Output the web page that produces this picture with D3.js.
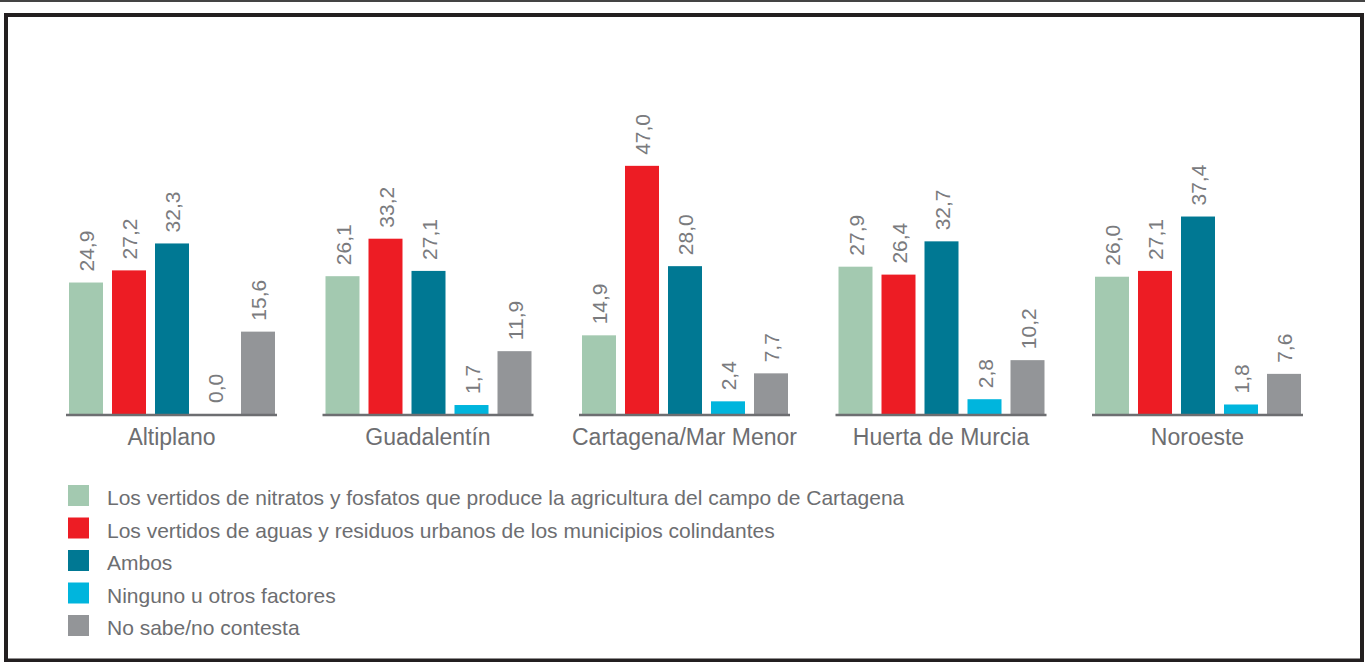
<!DOCTYPE html>
<html>
<head>
<meta charset="utf-8">
<script src="https://cdn.jsdelivr.net/npm/d3@7"></script>
<style>
  html, body { margin: 0; padding: 0; background: #fff; }
  svg text { font-family: "Liberation Sans", Arial, sans-serif; fill: #6d6e71; }
</style>
</head>
<body>
<div id="chart"></div>
<script>
// data
var zonas = ["Altiplano", "Guadalentín", "Cartagena/Mar Menor", "Huerta de Murcia", "Noroeste"];
var series = [
  "Los vertidos de nitratos y fosfatos que produce la agricultura del campo de Cartagena",
  "Los vertidos de aguas y residuos urbanos de los municipios colindantes",
  "Ambos",
  "Ninguno u otros factores",
  "No sabe/no contesta"
];
var nitratos = [24.9, 26.1, 14.9, 27.9, 26.0];
var urbanos  = [27.2, 33.2, 47.0, 26.4, 27.1];
var ambos    = [32.3, 27.1, 28.0, 32.7, 37.4];
var ninguno  = [0.0, 1.7, 2.4, 2.8, 1.8];
var nsnc     = [15.6, 11.9, 7.7, 10.2, 7.6];
var colores  = ["#a3c9b0", "#ed1c24", "#007893", "#00b5dd", "#939598"];

var valores = [nitratos, urbanos, ambos, ninguno, nsnc];

// set the dimensions
var width = 1365
var height = 662
var base = 414

var svg = d3.select("#chart")
  .append("svg")
    .attr("width", width)
    .attr("height", height);

// frame
svg.append("line")
  .attr("x1", 0).attr("x2", width)
  .attr("y1", 1).attr("y2", 1)
  .attr("stroke", "#444")
  .attr("stroke-width", 2);
svg.append("rect")
  .attr("x", 6).attr("y", 15)
  .attr("width", 1356).attr("height", 645.5)
  .attr("fill", "none")
  .attr("stroke", "#231f20")
  .attr("stroke-width", 4);

// scales
var x0 = d3.scaleBand()
  .domain(zonas)
  .range([66, 1303])
  .paddingInner(45.5 / 256.5)
  .paddingOuter(0);

var x1 = d3.scaleBand()
  .domain(d3.range(series.length))
  .range([3, 209])
  .paddingInner(9 / 43)
  .paddingOuter(0);

var y = d3.scaleLinear()
  .domain([0, 50])
  .range([base, base - 264]);

var grupo = svg.selectAll("g.grupo")
  .data(zonas)
  .enter()
  .append("g")
    .attr("class", "grupo")
    .attr("transform", function(d) { return "translate(" + x0(d) + ",0)"; });

// bars
grupo.each(function(z, zi) {
  var g = d3.select(this);
  var filas = valores.map(function(v, si) { return { s: si, v: v[zi] }; });

  g.selectAll("rect")
    .data(filas)
    .enter()
    .append("rect")
      .attr("x", function(d) { return x1(d.s); })
      .attr("y", function(d) { return y(d.v); })
      .attr("width", x1.bandwidth())
      .attr("height", function(d) { return base - y(d.v); })
      .attr("fill", function(d) { return colores[d.s]; });

  // value labels, rotated
  g.selectAll("text.valor")
    .data(filas)
    .enter()
    .append("text")
      .attr("class", "valor")
      .attr("transform", function(d) {
        return "translate(" + (x1(d.s) + x1.bandwidth() / 2 + 1) + "," + (y(d.v) - 11) + ") rotate(-90)";
      })
      .attr("dy", "0.35em")
      .attr("font-size", 21)
      .style("fill", "#7a7b7e")
      .text(function(d) { return d3.format(".1f")(d.v).replace(".", ","); });
});

// baseline under each group
grupo.append("line")
  .attr("x1", 0)
  .attr("x2", x0.bandwidth())
  .attr("y1", base + 1)
  .attr("y2", base + 1)
  .attr("stroke", "#6d6e71")
  .attr("stroke-width", 2.5);

// category labels
grupo.append("text")
  .attr("x", x0.bandwidth() / 2)
  .attr("y", 445)
  .attr("text-anchor", "middle")
  .attr("font-size", 23)
  .text(function(d) { return d; });

// legend
var leyenda = svg.selectAll("g.leyenda")
  .data(series)
  .enter()
  .append("g")
    .attr("class", "leyenda")
    .attr("transform", function(d, i) { return "translate(68," + (485 + i * 32.5) + ")"; });

leyenda.append("rect")
  .attr("width", 21)
  .attr("height", 21)
  .attr("fill", function(d, i) { return colores[i]; });

leyenda.append("text")
  .attr("x", 39)
  .attr("y", 20)
  .attr("font-size", 21)
  .text(function(d) { return d; });
</script>
</body>
</html>
